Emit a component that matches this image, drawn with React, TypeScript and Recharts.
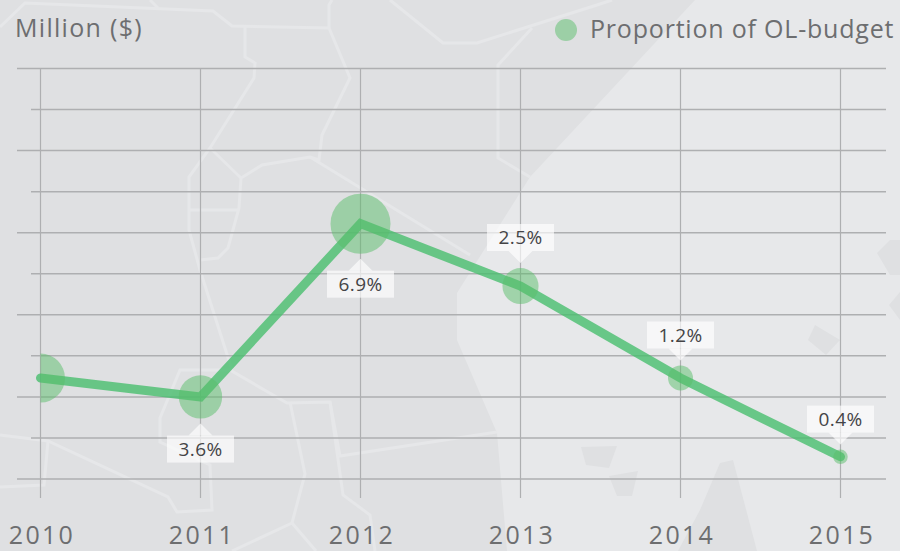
import { ComposedChart, Line, Scatter, XAxis, YAxis, ZAxis, CartesianGrid, Legend, LabelList } from 'recharts'

/* Proportion of OL-budget: a line with bubbles sized by share, on a faded map. */

const YEARS = ['2010', '2011', '2012', '2013', '2014', '2015']
const MILLIONS = [2.46, 2.0, 6.22, 4.7, 2.46, 0.54]
const SHARE = [4.6, 3.6, 6.9, 2.5, 1.2, 0.4]
const SHARE_LABELS = ['', '3.6%', '6.9%', '2.5%', '1.2%', '0.4%']
const LABEL_BELOW = ['2011', '2012']
const Y_TICKS = [0, 1, 2, 3, 4, 5, 6, 7, 8, 9, 10]

const WIDTH = 900
const HEIGHT = 551
const MAX_RADIUS = 30
const LINE = 'rgba(72, 190, 110, 0.8)'
const BUBBLE = 'rgba(90, 190, 105, 0.5)'
const GRID = '#aeafb1'
const TEXT = '#6d6e70'
const FONT = '"Open Sans", sans-serif'

const rows = YEARS.map((year, i) => ({ year, value: MILLIONS[i], share: SHARE[i], label: SHARE_LABELS[i] }))

// background map, decoration only
const DARK_AREAS = [
  '0,0 695,0 530,177 457,293 457,340 497,433 507,551 0,551',
  '678,551 700,510 720,463 733,460 757,551',
  '581,447 617,446 609,468 586,465',
  '609,476 638,471 632,496 617,496',
  '815,325 840,340 826,355 808,340',
  '877,253 890,240 900,240 900,275 890,275',
  '889,305 900,292 900,320',
]
const ROADS = [
  '0,27 25,3 213,11 232,26 329,28 350,78 322,135 319,160 310,157 262,165 241,178 239,208 228,248 218,258 200,260',
  '150,0 158,8',
  '245,27 245,57 255,63 254,78 210,148 189,177 189,230 200,270 232,370',
  '210,148 241,178',
  '189,210 238,210',
  '310,157 470,255',
  '329,28 329,5 332,0',
  '390,0 443,43 477,43 597,5 612,0',
  '532,28 498,65 498,158 530,177',
  '0,435 48,441 168,497 177,512 212,510 210,465 160,442 160,418 180,370 230,370 287,403 330,402 340,456 497,432',
  '48,441 44,485 0,487',
  '290,402 305,474 292,523 232,551',
  '292,523 316,551',
  '330,402 343,495 370,515 375,551',
]

function MapBackdrop() {
  return (
    <svg width={WIDTH} height={HEIGHT} style={{ position: 'absolute', left: 0, top: 0 }}>
      <rect width={WIDTH} height={HEIGHT} fill="#e7e8ea" />
      {DARK_AREAS.map((points) => (
        <polygon key={points} points={points} fill="#dfe0e2" />
      ))}
      {ROADS.map((points) => (
        <polyline key={points} points={points} fill="none" stroke="#e6e7e9" strokeWidth={3} />
      ))}
    </svg>
  )
}

// alternating long and short gridlines, running past the plot on both sides
function GridRow(props: any) {
  const long = Math.round((props.y1 - 68.5) / 41) % 2 === 0
  return <line x1={long ? 17 : 31} x2={886} y1={props.y1} y2={props.y2} stroke={GRID} strokeWidth={1.5} />
}

// the y axis has no tick labels, so the grid rows are worked out from the tick values
const gridRows = ({ offset }: any) => Y_TICKS.map((v) => offset.top + offset.height * (1 - v / 10))

function Bubble(props: any) {
  const r = Math.sqrt(props.size / Math.PI)
  return <circle cx={props.cx} cy={props.cy} r={r} fill={BUBBLE} clipPath="url(#bubbleClip)" />
}

function ShareLabel(props: any) {
  const { x, y, index } = props
  const text = SHARE_LABELS[index]
  if (!text) return null
  const r = MAX_RADIUS * Math.sqrt(SHARE[index] / 6.9)
  const dir = LABEL_BELOW.includes(YEARS[index]) ? 1 : -1
  const tip = y + dir * (r + 5)
  const base = tip + dir * 12
  const boxY = dir > 0 ? base : base - 27
  return (
    <g>
      <path d={`M${x} ${tip}L${x + 12} ${base}L${x - 12} ${base}Z`} fill="rgba(255,255,255,0.65)" />
      <rect x={x - 33.5} y={boxY} width={67} height={27} fill="rgba(255,255,255,0.65)" />
      <text x={x} y={boxY + 20} textAnchor="middle" fontFamily={FONT} fontSize={19} letterSpacing={0.4} fill="#444446">
        {text}
      </text>
    </g>
  )
}

function UnitLabel() {
  return (
    <text x={15} y={37} fontFamily={FONT} fontSize={25} letterSpacing={1.3} fill={TEXT}>
      Million ($)
    </text>
  )
}

export default function App() {
  return (
    <div style={{ position: 'absolute', left: 0, top: 0, width: WIDTH, height: HEIGHT, overflow: 'hidden' }}>
      <MapBackdrop />
      <div style={{ position: 'absolute', left: 0, top: 0 }}>
        <ComposedChart width={WIDTH} height={HEIGHT} data={rows} margin={{ top: 68.5, right: 59.5, bottom: 0, left: 0.5 }}>
          <defs>
            <clipPath id="bubbleClip">
              <rect x={40.5} y={0} width={WIDTH} height={HEIGHT} />
            </clipPath>
          </defs>
          <CartesianGrid stroke={GRID} strokeWidth={1.2} horizontal={GridRow} horizontalCoordinatesGenerator={gridRows} />
          <XAxis
            dataKey="year"
            scale="point"
            padding={{ left: 0, right: 0 }}
            height={72}
            axisLine={false}
            tickSize={19}
            tickLine={{ stroke: GRID, strokeWidth: 1.2 }}
            tick={{ fontSize: 25, fill: TEXT, fontFamily: FONT, letterSpacing: 2.3, dy: 26, dx: 1.5 }}
            interval={0}
          />
          <YAxis
            width={40}
            domain={[0, 10]}
            ticks={Y_TICKS}
            interval={0}
            tick={false}
            tickLine={false}
            axisLine={false}
            label={<UnitLabel />}
          />
          <ZAxis dataKey="share" domain={[0, 6.9]} range={[0, Math.PI * MAX_RADIUS * MAX_RADIUS]} />
          <Legend
            verticalAlign="middle"
            align="center"
            iconType="circle"
            iconSize={22}
            wrapperStyle={{ top: 7, left: 555, width: 345, height: 34 }}
            formatter={(value) => (
              <span style={{ color: TEXT, fontFamily: FONT, fontSize: 25, letterSpacing: 0.8, marginLeft: 9, whiteSpace: 'nowrap', position: 'relative', top: 4 }}>{value}</span>
            )}
          />
          <Scatter name="Proportion of OL-budget" dataKey="value" fill={BUBBLE} shape={Bubble} isAnimationActive={false} />
          <Line
            dataKey="value"
            stroke={LINE}
            strokeWidth={9}
            strokeLinecap="round"
            strokeLinejoin="miter"
            dot={false}
            activeDot={false}
            legendType="none"
            isAnimationActive={false}
          >
            <LabelList dataKey="label" content={ShareLabel} />
          </Line>
        </ComposedChart>
      </div>
    </div>
  )
}
